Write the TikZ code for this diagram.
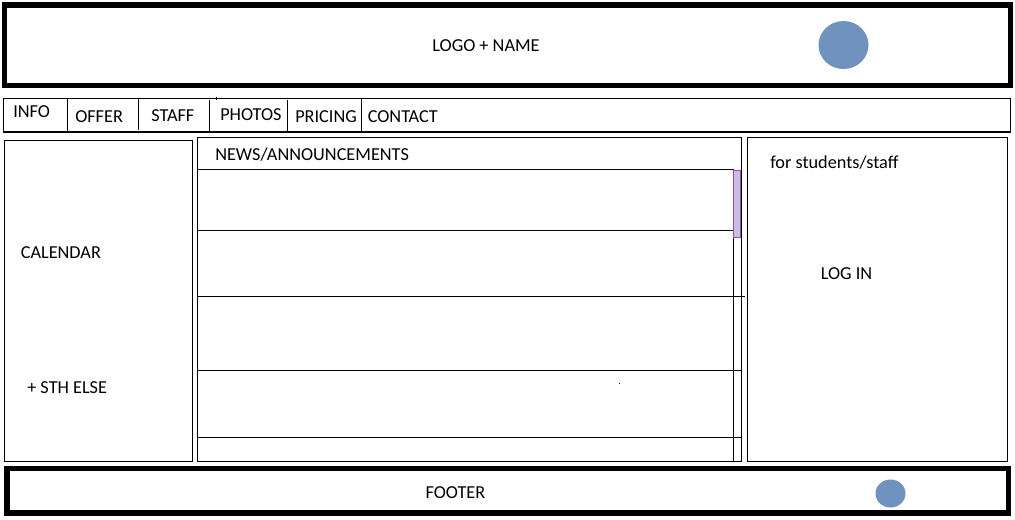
\documentclass[tikz,border=0pt]{standalone}
\usepackage{fontspec}
\setmainfont{Carlito}
\definecolor{dotblue}{RGB}{112,146,190}
\definecolor{thumbfill}{RGB}{200,190,230}
\definecolor{thumbedge}{RGB}{150,80,160}
\begin{document}
\begin{tikzpicture}[x=0.75pt,y=-0.75pt,
  thin line/.style={draw=black,line width=0.9pt},
  thick frame/.style={draw=black,line width=3.9pt},
  lbl/.style={font=\fontsize{13.7}{16}\selectfont,inner sep=0pt,anchor=west},
  dot/.style={fill=dotblue,draw=none}]
\useasboundingbox (0,0) rectangle (1015,519);
\fill[white] (0,0) rectangle (1015,519);
% header
\draw[thick frame] (4.5,5) rectangle (1010.5,85.5);
\node[lbl,anchor=center] (logo) at (486,45.5) {LOGO + NAME};
\fill[dot] (843.5,45) ellipse (25 and 24);
% nav bar
\draw[thin line] (3.5,98.5) rectangle (1010.5,132);
\draw[thin line] (67.5,98.5) -- (67.5,130.5);
\draw[thin line] (138.5,98.5) -- (138.5,129.5);
\draw[thin line] (209.5,100) -- (209.5,132);
\draw[thin line] (216.5,96.5) -- (216.5,99.5);
\draw[thin line] (287.5,100) -- (287.5,132);
\draw[thin line] (361.5,98.5) -- (361.5,132);
\node[lbl] (info) at (13,111.5) {INFO};
\node[lbl] (offer) at (75,116.5) {OFFER};
\node[lbl] (staff) at (151,115.5) {STAFF};
\node[lbl] (photos) at (220,114.5) {PHOTOS};
\node[lbl] (pricing) at (295,117) {PRICING};
\node[lbl] (contact) at (367.5,117) {CONTACT};
% left panel
\draw[thin line] (4.5,140.5) rectangle (192.5,461.5);
\node[lbl] (cal) at (20.5,252.5) {CALENDAR};
\node[lbl] (sth) at (27,387.5) {+ STH ELSE};
% middle panel
\draw[thin line] (197.5,137.5) rectangle (741.5,461.5);
\node[lbl] (news) at (215,154.5) {NEWS/ANNOUNCEMENTS};
\draw[thin line] (198,169.5) -- (733.5,169.5);
\draw[thin line] (198,230.5) -- (733.5,230.5);
\draw[thin line] (198,296.5) -- (745,296.5);
\draw[thin line] (198,370.5) -- (741.5,370.5);
\draw[thin line] (198,437.5) -- (741.5,437.5);
\draw[thin line] (733.5,169.5) -- (733.5,461.5);
\draw[draw=thumbedge,fill=thumbfill,line width=0.75pt] (733.8,170.2) rectangle (740.8,237.5);
\fill[black] (619,382.5) rectangle (620,383.5);
% right panel
\draw[thin line] (747.5,137.5) rectangle (1007.5,461.5);
\node[lbl] (stud) at (770,162.5) {for students/staff};
\node[lbl] (login) at (820.5,273.5) {LOG IN};
% footer
\draw[thick frame] (7,468.5) rectangle (1008.5,513);
\node[lbl,anchor=center] (footer) at (455.5,493) {FOOTER};
\fill[dot] (890.5,493.5) ellipse (15 and 14);
\end{tikzpicture}
\end{document}
